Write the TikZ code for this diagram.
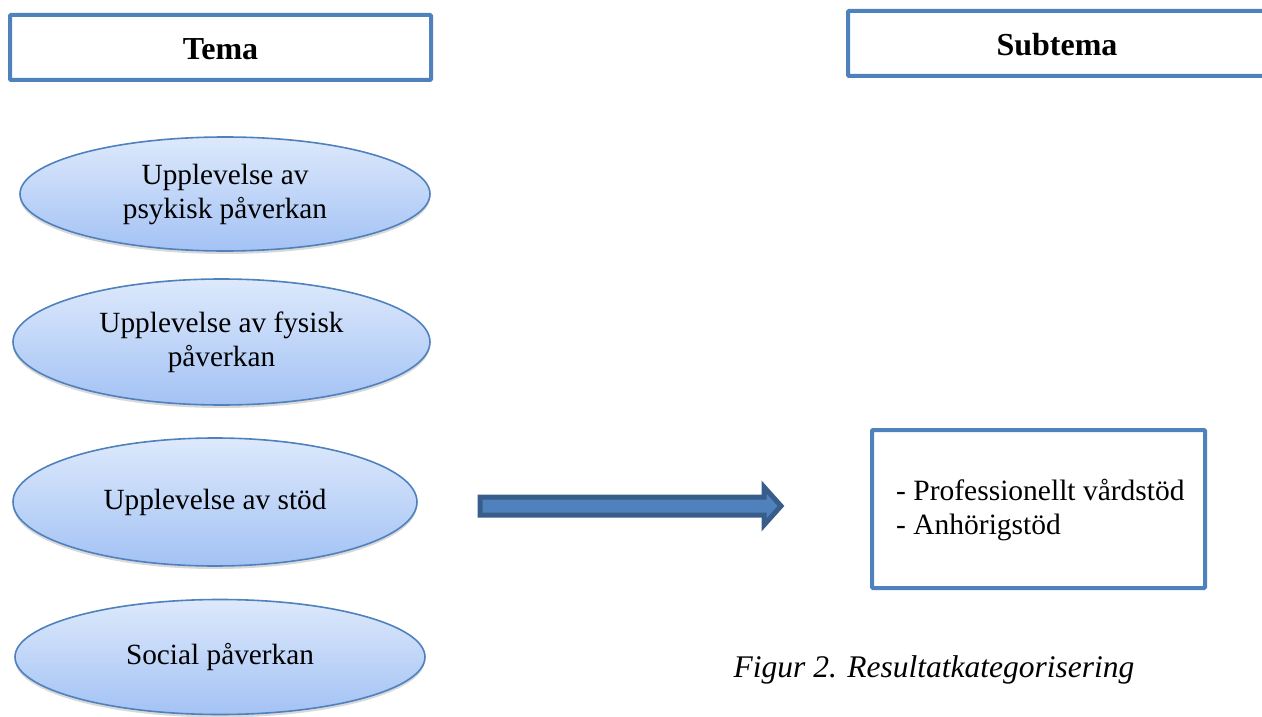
\documentclass[tikz,border=0pt]{standalone}
\usepackage{fontspec}
\setmainfont{Liberation Serif}
\usetikzlibrary{shapes.geometric,shadows}
\definecolor{accblue}{HTML}{4F81BD}
\definecolor{arrowedge}{HTML}{385D8A}
\definecolor{elltop}{HTML}{DDE9FC}
\definecolor{ellbot}{HTML}{A3C2F4}
\tikzset{
  titlebox/.style={draw=accblue, line width=4pt, rounded corners=1pt, fill=white, inner sep=0pt},
  titletext/.style={font=\fontsize{32}{36}\selectfont\bfseries, inner sep=0pt},
  themeell/.style={ellipse, draw=accblue, line width=1.6pt, top color=elltop, bottom color=ellbot, inner sep=0pt, align=center, font=\fontsize{29.3}{34}\selectfont,
     drop shadow={shadow xshift=0pt, shadow yshift=-3pt, opacity=0.25, fill=black!60}},
  subbox/.style={draw=accblue, line width=4pt, rounded corners=1pt, fill=white, inner sep=0pt},
  bodytext/.style={font=\fontsize{29.5}{34}\selectfont, align=left, inner sep=0pt},
  capt/.style={font=\fontsize{31.5}{36}\selectfont\itshape, inner sep=0pt},
  bigarrow/.style={fill=accblue, draw=arrowedge, line width=5pt, line join=miter}
}
\begin{document}
\begin{tikzpicture}[x=1pt,y=-1pt]
\useasboundingbox (0,0) rectangle (1262,717);
% title boxes
\node[titlebox, minimum width=421pt, minimum height=65pt] (tema) at (220.5,47.5) {};
\node[titletext] (tematext) at (220.5,49) {Tema};
\node[titlebox, minimum width=440pt, minimum height=65pt, anchor=west] (subtema) at (846,43.5) {};
\node[titletext] (subtemalabel) at (1057,45) {Subtema};
% ellipses
\node[themeell, minimum width=410pt, minimum height=114pt] (e1) at (225,194) {Upplevelse av\\psykisk påverkan};
\node[themeell, minimum width=417pt, minimum height=126pt] (e2) at (221.5,342) {Upplevelse av fysisk\\påverkan};
\node[themeell, minimum width=404pt, minimum height=128pt] (e3) at (215,502) {Upplevelse av stöd};
\node[themeell, minimum width=410pt, minimum height=115pt] (e4) at (220,657) {Social påverkan};
% arrow
\draw[bigarrow] (480,497) -- (764,497) -- (764,487) -- (781,506) -- (764,525) -- (764,515) -- (480,515) -- cycle;
% subtheme box
\node[subbox, minimum width=333pt, minimum height=158pt] (sub) at (1038.5,509) {};
\node[bodytext, anchor=west] (subtxt) at (896,510) {- Professionellt vårdstöd\\- Anhörigstöd};
% caption
\node[capt] (cap) at (934,670) {Figur 2. Resultatkategorisering};
\end{tikzpicture}
\end{document}
